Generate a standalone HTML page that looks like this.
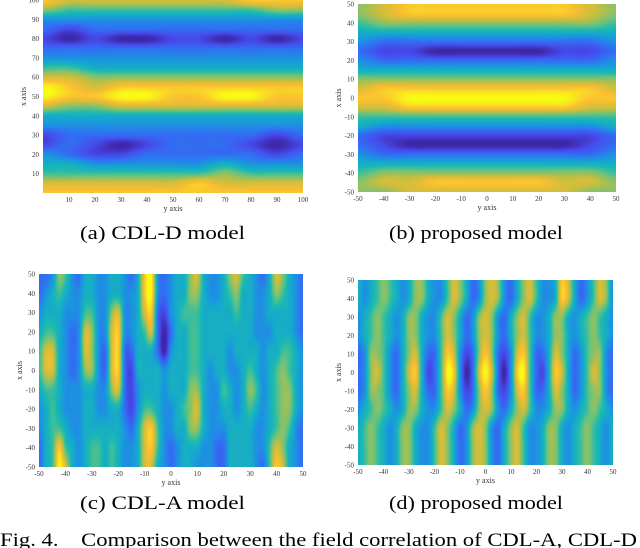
<!DOCTYPE html>
<html><head><meta charset="utf-8">
<style>
html,body{margin:0;padding:0;background:#fff;}
#root{position:relative;width:640px;height:548px;overflow:hidden;background:#fff;}
canvas{position:absolute;}
svg{position:absolute;left:0;top:0;}
text{font-family:"Liberation Serif",serif;fill:#000;}
.tk{font-size:7px;fill:#333;}
.ttl{font-size:8px;fill:#333;}
.cap{font-size:19px;}
</style></head>
<body>
<div id="root">
<canvas id="ca" width="260" height="193" style="left:43px;top:0px"></canvas>
<canvas id="cb" width="258" height="188" style="left:358px;top:4px"></canvas>
<canvas id="cc" width="264" height="193" style="left:39px;top:274px"></canvas>
<canvas id="cd" width="255" height="185" style="left:358px;top:280px"></canvas>
<svg id="ov" width="640" height="548">
<text class="cap" x="80" y="239" textLength="165" lengthAdjust="spacingAndGlyphs">(a) CDL-D model</text>
<text class="cap" x="389" y="239" textLength="174" lengthAdjust="spacingAndGlyphs">(b) proposed model</text>
<text class="cap" x="80" y="509" textLength="165" lengthAdjust="spacingAndGlyphs">(c) CDL-A model</text>
<text class="cap" x="389" y="509" textLength="174" lengthAdjust="spacingAndGlyphs">(d) proposed model</text>
<text class="cap" x="0" y="546" textLength="637" lengthAdjust="spacingAndGlyphs" xml:space="preserve">Fig. 4.    Comparison between the field correlation of CDL-A, CDL-D</text>
</svg>
</div>
<script>
// (a): rows x = 100..0 step 5, cols y = 0..100 step 10
const gridA = [
"87777777888","65555555566","33333333333","21222222222","10100110101",
"22222222222","33333333333","55444444444","77666666666","98788888888",
"98899889988","76677777777","44444444444","33333333333","12222222212",
"12101222101","32112222212","44333334333","55555556555","77777787777",
"88888888888"];
// (b): rows x = 50..-50 step 5, cols y = -50..50 step 10
const gridB = [
"67888888876","67888888876","56666666665","44444444444","32222222223",
"21100000112","32222222223","44444444444","66666666666","78888888887",
"88999999988","77888888877","55555555555","43333333334","21111111112",
"21000000012","32222222223","44444444444","56666666665","67788888776",
"66777777766"];
// (c): columns y = -50..50 step 2.5, each string = rows x = 50..-50 step 10
const colsC = [
"22345543322","23457754444","34457755555","65444444589","54333333457",
"33322233344","23333333333","44577644444","44566644455","33333333455",
"33332233444","44677764455","44788874444","33332222333","23332111233",
"44444433444","88754445777","99874445887","33222444554","22100333333",
"33323443322","44444444433","44544445444","66555566644","76555567643",
"44444444433","33444333333","33444433322","44444454322","65443344444",
"76544333444","54444444444","44444565444","33334454333","23333333332",
"44434444455","76444555578","65445666667","44445566544","33334444333",
"22223333222"];
// (d): rows x = 50..-50 step 10, cols y = -50..50 step 2.5
const rowD50  = "43456543466433576423676324675334874235763";
const rowD30  = "34565434664335764236763246753346643456543";
const rowD10  = "23665324674225873126862137852247642356632";
const rowD0   = "23675324784125983027972038952148742357632";
const rowDm30 = "45654346643357642367632467533466434565434";
const gridD = [rowD50, rowD50, rowD30, rowD30, rowD10, rowD0, rowD10, rowD30, rowDm30, rowDm30, rowDm30];

const ticksA = [10,20,30,40,50,60,70,80,90,100];
const ticksS = [-50,-40,-30,-20,-10,0,10,20,30,40,50];

const stops=[[0,62,38,168],[0.13,70,78,238],[0.25,45,118,242],[0.38,22,160,215],[0.5,25,185,180],[0.62,105,195,125],[0.75,200,190,62],[0.87,250,190,50],[1,249,250,20]];
function cmap(t){t=Math.max(0,Math.min(1,t));for(let i=1;i<stops.length;i++){if(t<=stops[i][0]){const a=stops[i-1],b=stops[i];const f=(t-a[0])/(b[0]-a[0]);return [a[1]+(b[1]-a[1])*f,a[2]+(b[2]-a[2])*f,a[3]+(b[3]-a[3])*f];}}return [249,250,20];}
// Catmull-Rom 1D
function cr(p0,p1,p2,p3,t){return 0.5*((2*p1)+(-p0+p2)*t+(2*p0-5*p1+4*p2-p3)*t*t+(-p0+3*p1-3*p2+p3)*t*t*t);}
function drawHeat(id,nr,nc,get){
  const cv=document.getElementById(id),ctx=cv.getContext('2d'),W=cv.width,H=cv.height;
  const img=ctx.createImageData(W,H);
  const g=(r,c)=>get(Math.max(0,Math.min(nr-1,r)),Math.max(0,Math.min(nc-1,c)));
  for(let py=0;py<H;py++){
    const rf=py/(H-1)*(nr-1);const r0=Math.min(nr-2,Math.floor(rf));const fr=rf-r0;
    for(let px=0;px<W;px++){
      const cf=px/(W-1)*(nc-1);const c0=Math.min(nc-2,Math.floor(cf));const fc=cf-c0;
      const rowv=[];
      for(let k=-1;k<=2;k++){rowv.push(cr(g(r0+k,c0-1),g(r0+k,c0),g(r0+k,c0+1),g(r0+k,c0+2),fc));}
      const v=cr(rowv[0],rowv[1],rowv[2],rowv[3],fr);
      const col=cmap(v/9);const k=(py*W+px)*4;
      img.data[k]=col[0];img.data[k+1]=col[1];img.data[k+2]=col[2];img.data[k+3]=255;
    }
  }
  ctx.putImageData(img,0,0);
}
drawHeat('ca',gridA.length,gridA[0].length,(r,c)=>+gridA[r][c]);
drawHeat('cb',gridB.length,gridB[0].length,(r,c)=>+gridB[r][c]);
drawHeat('cc',colsC[0].length,colsC.length,(r,c)=>+colsC[c][r]);
drawHeat('cd',gridD.length,gridD[0].length,(r,c)=>+gridD[r][c]);

const svg=document.getElementById('ov');const NS='http://www.w3.org/2000/svg';
function txt(x,y,s,cls,anchor,rot,name){
  const t=document.createElementNS(NS,'text');
  t.setAttribute('x',x);t.setAttribute('y',y);t.setAttribute('class',cls);
  t.setAttribute('text-anchor',anchor);
  if(rot)t.setAttribute('transform','rotate(-90 '+x+' '+y+')');
  t.textContent=s;
  
  
  svg.appendChild(t);
}
function axes(L,T,W,H,xmin,xmax,ymin,ymax,xt,yt,p){
  const xs=v=>L+(v-xmin)/(xmax-xmin)*W, ys=v=>T+H-(v-ymin)/(ymax-ymin)*H;
  xt.forEach(v=>txt(xs(v),T+H+9,String(v),'tk','middle',false,p+'-x-tick'));
  yt.forEach(v=>txt(L-4,ys(v)+2.5,String(v),'tk','end',false,p+'-y-tick'));
  txt(L+W/2,T+H+18,'y axis','ttl','middle',false,p+'-x-axis-title');
  txt(L-17,T+H/2,'x axis','ttl','middle',true,p+'-y-axis-title');
}
axes(43,0,260,193,0,100,0,100,ticksA,ticksA,'a');
axes(358,4,258,188,-50,50,-50,50,ticksS,ticksS,'b');
axes(39,274,264,193,-50,50,-50,50,ticksS,ticksS,'c');
axes(358,280,255,185,-50,50,-50,50,ticksS,ticksS,'d');
</script>
</body></html>
